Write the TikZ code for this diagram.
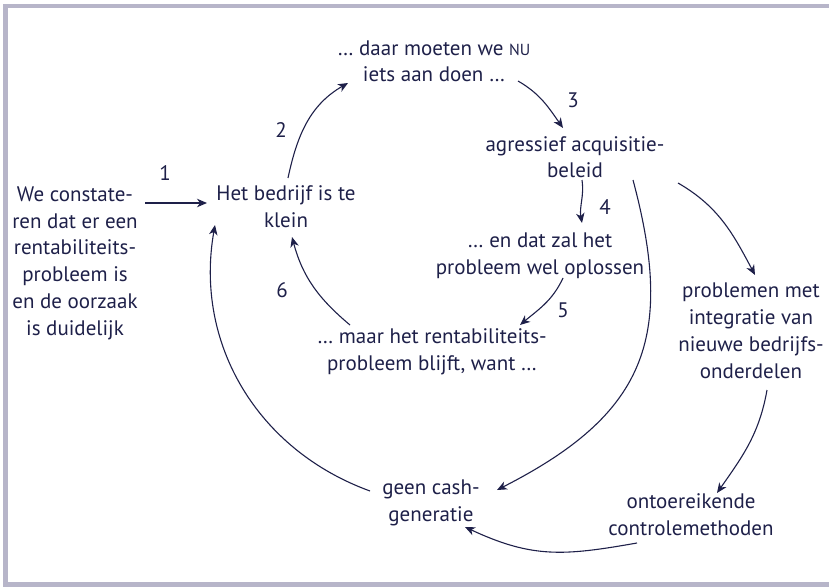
\documentclass[tikz,border=0pt]{standalone}
\usepackage{fontspec}
\setmainfont{PT Sans}
\usetikzlibrary{arrows.meta}
\definecolor{ink}{HTML}{1E2049}
\definecolor{framegray}{HTML}{B7B5C9}
\begin{document}
\begin{tikzpicture}[x=1pt,y=1pt,
  txt/.style={text=ink, align=center, inner sep=0pt, anchor=base, font=\fontsize{21}{26.7}\selectfont},
  num/.style={text=ink, inner sep=0pt, font=\fontsize{21}{24}\selectfont},
  link/.style={draw=ink, line width=1.1pt, -{Stealth[length=10pt,width=8.5pt,inset=3pt]}}]
\useasboundingbox (0,0) rectangle (829,-588);
% frame
\fill[framegray] (3.3,-4) rectangle (829,-8.3);
\fill[framegray] (3.3,-4) rectangle (8.3,-586.7);
\fill[framegray] (3.3,-581.7) rectangle (829,-586.7);
% nodes (anchored at the baseline of their last line)
\node[txt] (daar) at (434,-82) {… daar moeten we {\fontsize{16}{26.7}\selectfont NU}\\iets aan doen …};
\node[txt] (agr) at (575,-178) {agressief acquisitie-\\beleid};
\node[txt] (het) at (286,-227) {Het bedrijf is te\\klein};
\node[txt] (we) at (75,-335) {We constate-\\ren dat er een\\rentabiliteits-\\probleem is\\en de oorzaak\\is duidelijk};
\node[txt] (endat) at (540,-274) {… en dat zal het\\probleem wel oplossen};
\node[txt] (maar) at (432,-370) {… maar het rentabiliteits-\\probleem blijft, want …};
\node[txt] (prob) at (751,-378) {problemen met\\integratie van\\nieuwe bedrijfs-\\onderdelen};
\node[txt] (ont) at (691,-535) {ontoereikende\\controlemethoden};
\node[txt] (geen) at (431,-521) {geen cash-\\generatie};
% numbers
\node[num] (n1) at (165,-173) {1};
\node[num] (n2) at (281,-130) {2};
\node[num] (n3) at (573,-100) {3};
\node[num] (n4) at (605,-207) {4};
\node[num] (n5) at (563,-310) {5};
\node[num] (n6) at (282,-290) {6};
% connectors
\draw[link] ([shift={(70,132)}]we.base) -- ([shift={(-79,24)}]het.base);
\draw[link] ([shift={(2,49)}]het.base) to[out=78,in=210] ([shift={(-86,-1)}]daar.base);
\draw[link] ([shift={(84,1)}]daar.base) to[out=-30,in=125] ([shift={(-12,50)}]agr.base);
\draw[link] ([shift={(7,-2)}]agr.base) to[out=-82,in=100] ([shift={(42,51)}]endat.base);
\draw[link] ([shift={(23,-4)}]endat.base) to[out=-115,in=40] ([shift={(88,45)}]maar.base);
\draw[link] ([shift={(-82,45)}]maar.base) to[out=140,in=-75] ([shift={(6,-10)}]het.base);
\draw[link] ([shift={(103,-5)}]agr.base) to[out=-30,in=118] ([shift={(4,103)}]prob.base);
\draw[link] ([shift={(16,-12)}]prob.base) to[out=-100,in=55] ([shift={(26,42)}]ont.base);
\draw[link] ([shift={(-54,-8)}]ont.base) to[out=190,in=-25,looseness=1.1] ([shift={(34,-6)}]geen.base);
\draw[link] ([shift={(58,-2)}]agr.base) to[out=-75,in=27,looseness=1.25] ([shift={(66,31)}]geen.base);
\draw[link] ([shift={(-61,30)}]geen.base) to[out=160,in=-100,looseness=1.0] ([shift={(-71,2)}]het.base);
\end{tikzpicture}
\end{document}
